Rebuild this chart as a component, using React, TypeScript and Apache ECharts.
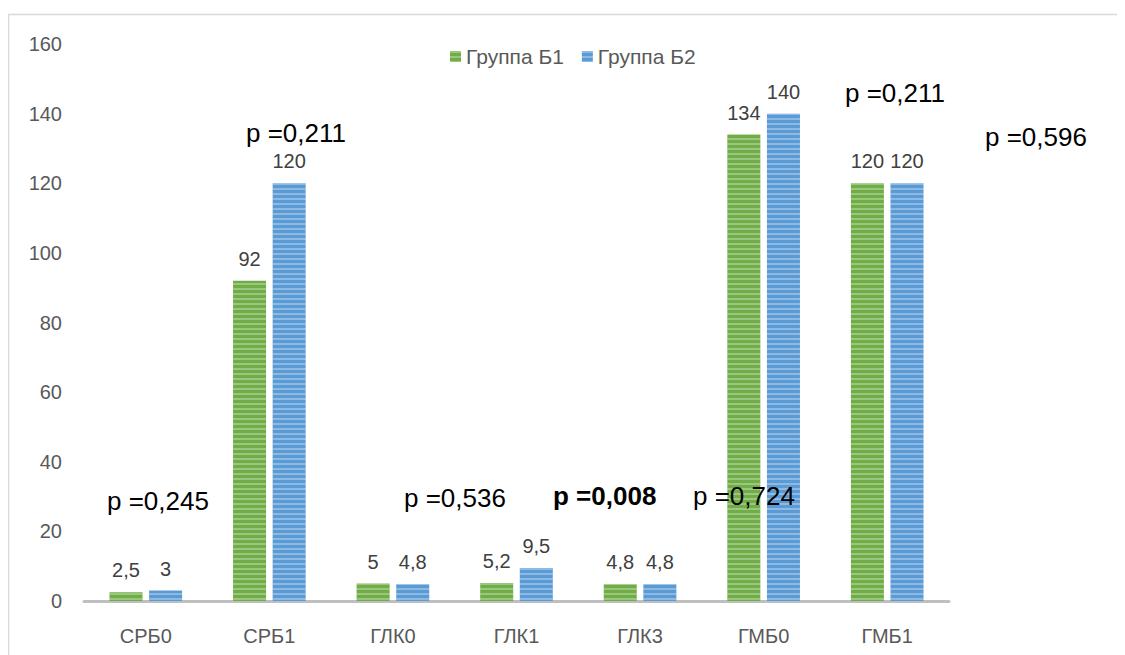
import React, { useEffect, useRef } from "react";
import * as echarts from "echarts";

const categories = ["СРБ0", "СРБ1", "ГЛК0", "ГЛК1", "ГЛК3", "ГМБ0", "ГМБ1"];
const groupB1 = [2.5, 92, 5, 5.2, 4.8, 134, 120];
const groupB2 = [3, 120, 4.8, 9.5, 4.8, 140, 120];
const seriesNames = ["Группа Б1", "Группа Б2"];
const pLabels = ["p =0,245", "p =0,211", "p =0,536", "p =0,008", "p =0,724", "p =0,211", "p =0,596"];
const pBold = [false, false, false, true, false, false, false];
// annotation anchor positions (left x, center y), in chart pixels
const pPos: [number, number][] = [
  [99, 493],
  [238, 125],
  [396, 490],
  [545, 488],
  [685, 488],
  [837, 85],
  [977, 129],
];

const FONT = "'Liberation Sans', Arial, sans-serif";

const fmt = (v: number) => String(v).replace(".", ",");

const decal = (c: string) => ({
  symbol: "rect",
  symbolSize: 1,
  dashArrayX: [[1, 0]],
  dashArrayY: [2, 3],
  rotation: 0,
  color: c,
});

export default function App() {
  const ref = useRef<HTMLDivElement>(null);
  useEffect(() => {
    document.body.style.overflow = "hidden";
    const chart = echarts.init(ref.current!, undefined, { renderer: "svg" });
    const mkSeries = (name: string, data: number[], color: string) => ({
      name,
      type: "bar",
      data,
      barWidth: 33,
      barGap: "20%",
      itemStyle: { color, decal: decal("rgba(255,255,255,0.3)") },
      label: {
        show: true,
        position: "top",
        distance: 12,
        color: "#404040",
        fontSize: 20,
        fontFamily: FONT,
        formatter: (p: any) => fmt(p.value),
      },
    });
    chart.setOption({
      animation: false,
      backgroundColor: "#ffffff",
      legend: {
        show: true,
        left: 437,
        top: 33,
        itemWidth: 11,
        itemHeight: 11,
        itemGap: 18,
        icon: "rect",
        textStyle: { color: "#595959", fontSize: 21, fontFamily: FONT },
        data: seriesNames,
      },
      grid: { left: 76, top: 36, width: 865, height: 557, containLabel: false },
      xAxis: {
        type: "category",
        data: categories,
        axisLine: { lineStyle: { color: "#BFBFBF", width: 3 } },
        axisTick: { show: false },
        axisLabel: { color: "#595959", fontSize: 20, fontFamily: FONT, margin: 25 },
      },
      yAxis: {
        type: "value",
        min: 0,
        max: 160,
        interval: 20,
        axisLine: { show: false },
        axisTick: { show: false },
        splitLine: { show: false },
        axisLabel: { color: "#595959", fontSize: 20, fontFamily: FONT, margin: 22 },
      },
      series: [
        mkSeries(seriesNames[0], groupB1, "#70AD47"),
        mkSeries(seriesNames[1], groupB2, "#5B9BD5"),
      ],
      graphic: [
        {
          type: "rect",
          silent: true,
          shape: { x: 0.5, y: 6.5, width: 1300, height: 900 },
          style: { fill: "none", stroke: "#D9D9D9", lineWidth: 1.5 },
        },
        ...pLabels.map((t, i) => ({
          type: "text",
          x: pPos[i][0],
          y: pPos[i][1],
          z: 100,
          style: {
            text: t,
            fill: "#000000",
            fontSize: 26,
            fontWeight: pBold[i] ? "bold" : "normal",
            fontFamily: FONT,
            verticalAlign: "middle",
            align: "left",
          },
        })),
      ],
    });
    return () => chart.dispose();
  }, []);
  return <div ref={ref} style={{ width: 1117, height: 647 }} />;
}
